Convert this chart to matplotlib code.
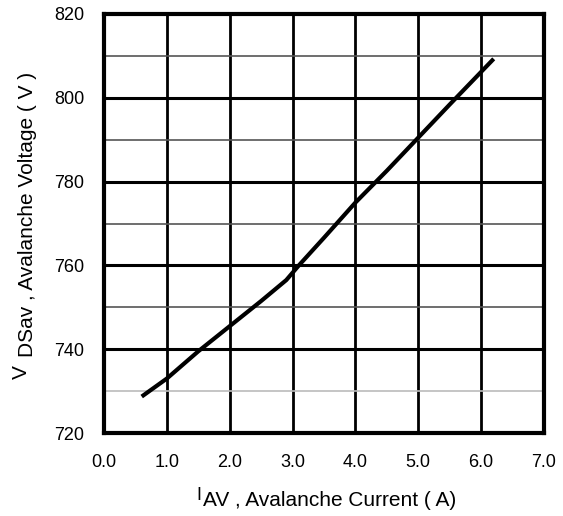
import matplotlib.pyplot as plt
import numpy as np

plt.rcParams['font.family'] = ['Liberation Sans', 'DejaVu Sans']

# avalanche current (A) vs avalanche voltage (V)
i_av = [0.6, 1.0, 1.5, 2.0, 2.5, 2.9, 3.1, 3.5, 4.0, 4.5, 5.0, 5.5, 6.2]
v_dsav = [728.7, 733.0, 739.5, 745.5, 751.5, 756.5, 760.0, 766.6, 775.0,
          782.6, 790.5, 798.4, 809.3]

x_ticks = [0.0, 1.0, 2.0, 3.0, 4.0, 5.0, 6.0, 7.0]
y_ticks = [720, 740, 760, 780, 800, 820]
y_minor = [730, 750, 770, 790, 810]

W, H = 563, 516
fig = plt.figure(figsize=(W / 100, H / 100), dpi=100)
ax = fig.add_axes([104 / W, (H - 433) / H, 440 / W, 419 / H])

ax.set_xlim(0, 7)
ax.set_ylim(720, 820)

for x in x_ticks[1:-1]:
    ax.axvline(x, color='black', lw=2.0, zorder=1)
for y in y_ticks[1:-1]:
    ax.axhline(y, color='black', lw=2.2, zorder=1)
for y in y_minor:
    c = '#bbbbbb' if y == 730 else '#555555'
    ax.axhline(y, color=c, lw=1.2, zorder=1)

ax.plot(i_av, v_dsav, color='black', lw=3.0, solid_capstyle='butt', zorder=3)

ax.set_xticks(x_ticks)
ax.set_xticklabels(['%.1f' % v for v in x_ticks])
ax.set_yticks(y_ticks)
ax.tick_params(length=0, labelsize=13, colors='black')
ax.tick_params(axis='x', pad=15)
ax.tick_params(axis='y', pad=14)

for s in ax.spines.values():
    s.set_linewidth(3.0)
    s.set_zorder(4)

# axis titles: the symbol letter sits a little above the rest, as in the sheet
fs = 15
fig.text(203 / W, 10 / H, 'AV , Avalanche Current ( A)', fontsize=fs,
         ha='left', va='baseline')
fig.text(201 / W, 16 / H, 'I', fontsize=fs - 2, ha='right', va='baseline')

fig.text(33 / W, 159 / H, 'DSav , Avalanche Voltage ( V )', fontsize=fs,
         rotation=90, rotation_mode='anchor', ha='left', va='baseline')
fig.text(27 / W, 151 / H, 'V', fontsize=fs, rotation=90,
         rotation_mode='anchor', ha='right', va='baseline')

fig.savefig('out.png', dpi=100)
